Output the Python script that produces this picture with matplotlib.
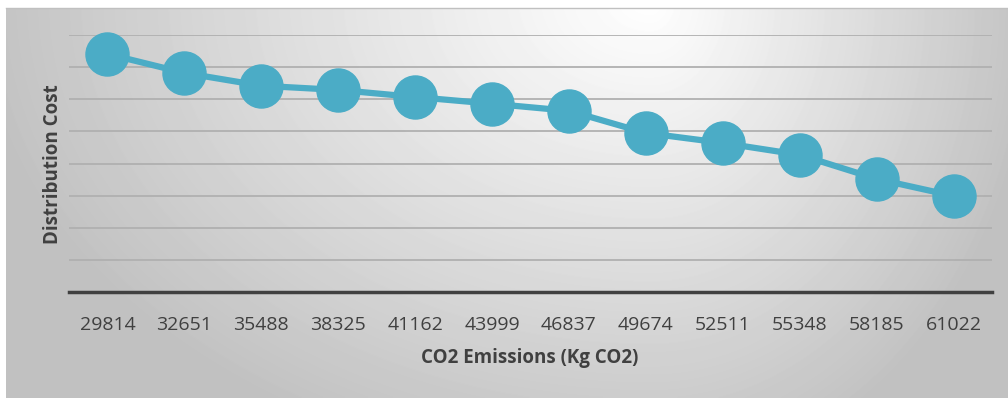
import numpy as np
import matplotlib.pyplot as plt

# emisiones (eje x, categorias) y costo de distribucion (sin escala visible)
emisiones = ['29814', '32651', '35488', '38325', '41162', '43999',
             '46837', '49674', '52511', '55348', '58185', '61022']
costo = [7.41, 6.82, 6.42, 6.29, 6.07, 5.86, 5.64, 4.95, 4.64, 4.27, 3.52, 2.99]

W, H = 1008, 398
fig = plt.figure(figsize=(W / 100, H / 100), dpi=100)

# fondo con degradado radial (blanco arriba, gris en los bordes)
bg = fig.add_axes([6 / W, 0, 1 - 6 / W, 390 / H])
xx, yy = np.meshgrid(np.arange(6, W), np.arange(8, H))
cx, cy = 650, 0
sx = np.where(xx < cx, 700.0, 400.0)
r = np.sqrt(((xx - cx) / sx) ** 2 + ((yy - cy) / 500.0) ** 2)
val = np.clip(1 - 0.25 * r, 0.76, 1)
bg.imshow(val, cmap='gray', vmin=0, vmax=1, aspect='auto',
          extent=[0, 1, 0, 1], origin='upper', interpolation='bilinear')
bg.axis('off')
fig.add_artist(plt.Line2D([6 / W, 1], [1 - 8 / H, 1 - 8 / H],
                          color='#c0c0c0', lw=1.0, transform=fig.transFigure))

ax = fig.add_axes([69 / W, (H - 292) / H, (992 - 69) / W, (292 - 35) / H])
ax.patch.set_alpha(0)
x = np.arange(len(emisiones))
ax.plot(x, costo, color='#4bacc6', lw=4.5, marker='o', markersize=31,
        markerfacecolor='#4bacc6', markeredgecolor='#4bacc6', zorder=3,
        clip_on=False)
ax.set_xlim(-0.5, len(emisiones) - 0.5)
ax.set_ylim(0, 8)
ax.set_yticks(range(1, 9))
ax.yaxis.grid(True, color='#b0b0b0', lw=1.3)
ax.set_yticklabels([])
ax.tick_params(axis='y', length=0)
ax.set_xticks(x)
ax.set_xticklabels(emisiones, fontsize=14, color='#404040', family='Open Sans')
ax.tick_params(axis='x', length=0, pad=17)
for s in ['top', 'right', 'left']:
    ax.spines[s].set_visible(False)
ax.spines['bottom'].set_color('#404040')
ax.spines['bottom'].set_linewidth(2.5)

fig.text(530 / W, 1 - 358 / H, 'CO2 Emissions (Kg CO2)', ha='center', va='center',
         fontsize=13.5, fontweight='bold', color='#404040', family='Open Sans')
fig.text(53 / W, 1 - 164 / H, 'Distribution Cost', ha='center', va='center',
         rotation=90, fontsize=13.5, fontweight='bold', color='#404040', family='Open Sans')

fig.savefig('out.png', dpi=100)
